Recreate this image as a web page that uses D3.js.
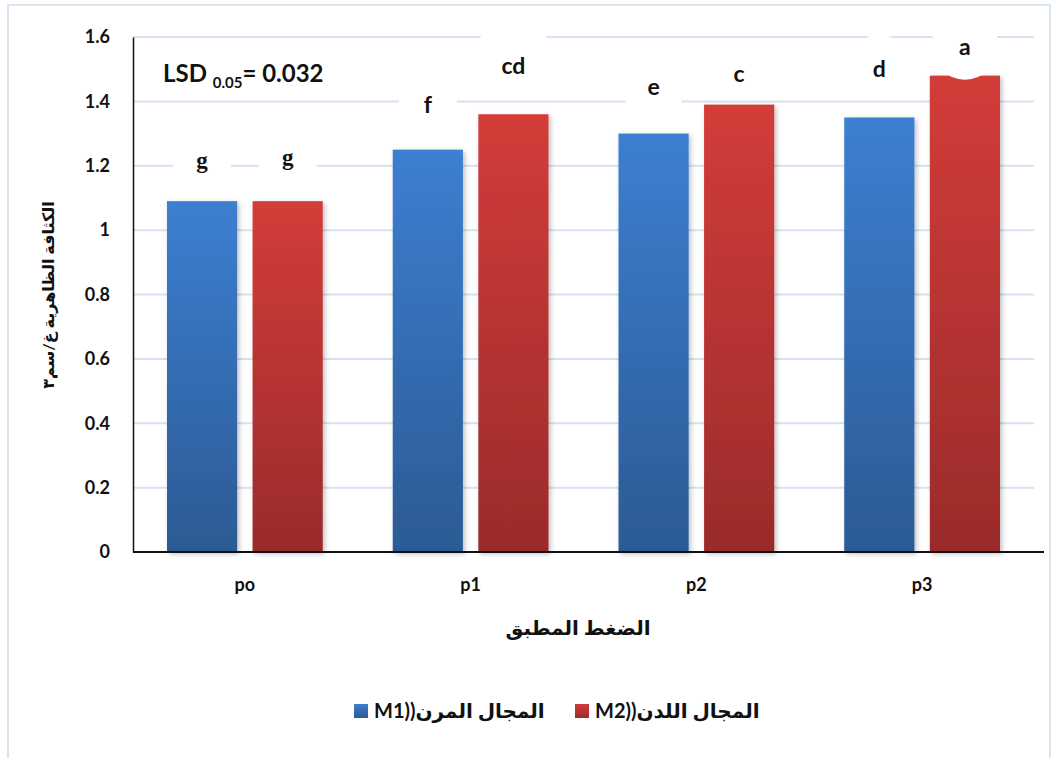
<!DOCTYPE html>
<html>
<head>
<meta charset="utf-8">
<script src="https://cdn.jsdelivr.net/npm/d3@7"></script>
<style>
  html, body { margin: 0; padding: 0; background: #fff; }
  svg { display: block; }
  text { font-family: Lato, "DejaVu Sans", sans-serif; font-weight: 700; fill: #111; }
</style>
</head>
<body>
<svg id="chart" width="1057" height="758"></svg>
<script>
// Pressure levels and bulk density (g/cm3) per field
const categories = ["po", "p1", "p2", "p3"];
const seriesCodes = ["M1))", "M2))"];
const seriesNames = ["المجال المرن", "المجال اللدن"];
const m1Values = [1.09, 1.25, 1.30, 1.35];
const m2Values = [1.09, 1.36, 1.39, 1.48];
const m1Letters = ["g", "f", "e", "d"];
const m2Letters = ["g", "cd", "c", "a"];
const yTicks = [0, 0.2, 0.4, 0.6, 0.8, 1, 1.2, 1.4, 1.6];
const yTitle = "الكثافة الظاهرية  غ/سم٣";
const xTitle = "الضغط المطبق";

const svg = d3.select("#chart");
const defs = svg.append("defs");

// Frame
svg.append("rect").attr("x", 8).attr("y", 5).attr("width", 1042).attr("height", 770)
  .attr("fill", "none").attr("stroke", "#dae5f2").attr("stroke-width", 2);

const x0 = d3.scaleBand().domain(categories).range([132, 1035]).paddingInner(0.31).paddingOuter(0.155);
const x1 = d3.scaleBand().domain([0, 1]).range([0, x0.bandwidth()]).paddingInner(0.18);
const y = d3.scaleLinear().domain([0, 1.6]).range([552, 37]);

// Gradients and shadow
const grads = [["gBlue", "#3c7fd1", "#2c5a94"], ["gRed", "#d33c39", "#9a2b2b"]];
grads.forEach(([id, top, bottom]) => {
  const g = defs.append("linearGradient").attr("id", id).attr("x1", 0).attr("y1", 0).attr("x2", 0).attr("y2", 1);
  g.append("stop").attr("offset", "0%").attr("stop-color", top);
  g.append("stop").attr("offset", "100%").attr("stop-color", bottom);
});
const sh = defs.append("filter").attr("id", "shadow").attr("x", "-20%").attr("y", "-5%").attr("width", "140%").attr("height", "110%");
sh.append("feDropShadow").attr("dx", 2).attr("dy", 2).attr("stdDeviation", 2.5)
  .attr("flood-color", "#000").attr("flood-opacity", 0.25);

// Gridlines
svg.append("g").selectAll("line").data(yTicks.filter(d => d > 0)).join("line")
  .attr("x1", 133).attr("x2", 1034).attr("y1", d => y(d)).attr("y2", d => y(d))
  .attr("stroke", "#d5e2f1").attr("stroke-width", 2);

// Bars
const series = [m1Values, m2Values];
const fills = ["url(#gBlue)", "url(#gRed)"];
series.forEach((vals, s) => {
  svg.append("g").attr("filter", "url(#shadow)").selectAll("rect").data(vals).join("rect")
    .attr("x", (d, i) => x0(categories[i]) + x1(s))
    .attr("y", d => y(d))
    .attr("width", x1.bandwidth())
    .attr("height", d => y(0) - y(d))
    .attr("fill", fills[s]);
});

// Axes
const axisFont = sel => sel.attr("font-size", 18).style("font-family", "Lato, sans-serif")
  .style("font-weight", 700).attr("fill", "#111");
const yAxis = d3.axisLeft(y).tickValues(yTicks).tickSize(0).tickPadding(23)
  .tickFormat(d => String(+d.toFixed(1)));
const ya = svg.append("g").attr("transform", "translate(133,0)").call(yAxis);
ya.select(".domain").attr("stroke", "#111").attr("stroke-width", 1.5);
ya.selectAll("text").call(axisFont);

const xAxis = d3.axisBottom(x0).tickSize(0).tickPadding(26);
const xa = svg.append("g").attr("transform", "translate(0,552)").call(xAxis);
xa.select(".domain").remove();
xa.selectAll("text").call(axisFont);
svg.append("line").attr("x1", 133).attr("x2", 1044).attr("y1", 552).attr("y2", 552)
  .attr("stroke", "#111").attr("stroke-width", 2);

// Significance letters, each on a white label box
const labelOffsets = [[-41, -44], [-45, -48], [-47, -31], [-49, -29]];
const labelBoxes = [];
series.forEach((vals, s) => {
  const letters = s === 0 ? m1Letters : m2Letters;
  vals.forEach((v, i) => {
    labelBoxes.push({
      cx: x0(categories[i]) + x1(s) + x1.bandwidth() / 2,
      cy: y(v) + labelOffsets[i][s],
      text: letters[i]
    });
  });
});
const boxW = t => t.length > 1 ? 80 : t === "d" ? 44 : 58;
const lab = svg.append("g").selectAll("g").data(labelBoxes).join("g");
// the top label sits on an oval backdrop that dips into its bar
lab.filter(d => d.text === "a").append("ellipse")
  .attr("cx", d => d.cx).attr("cy", d => d.cy).attr("rx", 34).attr("ry", 33)
  .attr("fill", "#fff");
lab.filter(d => d.text !== "a").append("rect")
  .attr("x", d => d.cx - boxW(d.text) / 2)
  .attr("width", d => boxW(d.text))
  .attr("y", d => d.cy - 33)
  .attr("height", 60)
  .attr("rx", 18)
  .attr("fill", "#fff");
lab.append("text")
  .attr("x", d => d.cx).attr("y", d => d.cy).attr("dy", "0.35em")
  .attr("text-anchor", "middle").attr("font-size", 23)
  .style("font-family", d => d.text === "g" ? "'Liberation Serif', serif" : "Lato, sans-serif")
  .text(d => d.text);

// LSD annotation
const lsd = svg.append("text").attr("x", 163).attr("y", 82).attr("font-size", 24);
lsd.append("tspan").text("LSD ");
lsd.append("tspan").attr("font-size", 15).attr("dy", 6).text("0.05");
lsd.append("tspan").attr("dy", -6).text("= 0.032");

// Axis titles
svg.append("text").attr("transform", "translate(48,295) rotate(-90)")
  .attr("text-anchor", "middle").attr("dy", "0.35em").attr("font-size", 16)
  .attr("direction", "rtl").text(yTitle);
svg.append("text").attr("x", 578).attr("y", 628).attr("text-anchor", "middle")
  .attr("dy", "0.35em").attr("font-size", 20).attr("direction", "rtl").text(xTitle);

// Legend: swatch, series code, then Arabic field name
const legendX = [354, 575];
const legendFills = ["url(#gBlue)", "url(#gRed)"];
const leg = svg.append("g").selectAll("g").data(seriesNames).join("g")
  .attr("transform", (d, i) => `translate(${legendX[i]},711)`);
leg.append("rect").attr("x", 0).attr("y", -7).attr("width", 14).attr("height", 14)
  .attr("fill", (d, i) => legendFills[i]);
leg.each(function (d, i) {
  const g = d3.select(this);
  const code = g.append("text").attr("x", 20).attr("dy", "0.35em").attr("font-size", 20)
    .attr("direction", "ltr").text(seriesCodes[i]);
  const w = code.node().getComputedTextLength();
  g.append("text").attr("x", 20 + w).attr("dy", "0.35em").attr("font-size", 20)
    .attr("text-anchor", "start").text(d);
});
</script>
</body>
</html>
